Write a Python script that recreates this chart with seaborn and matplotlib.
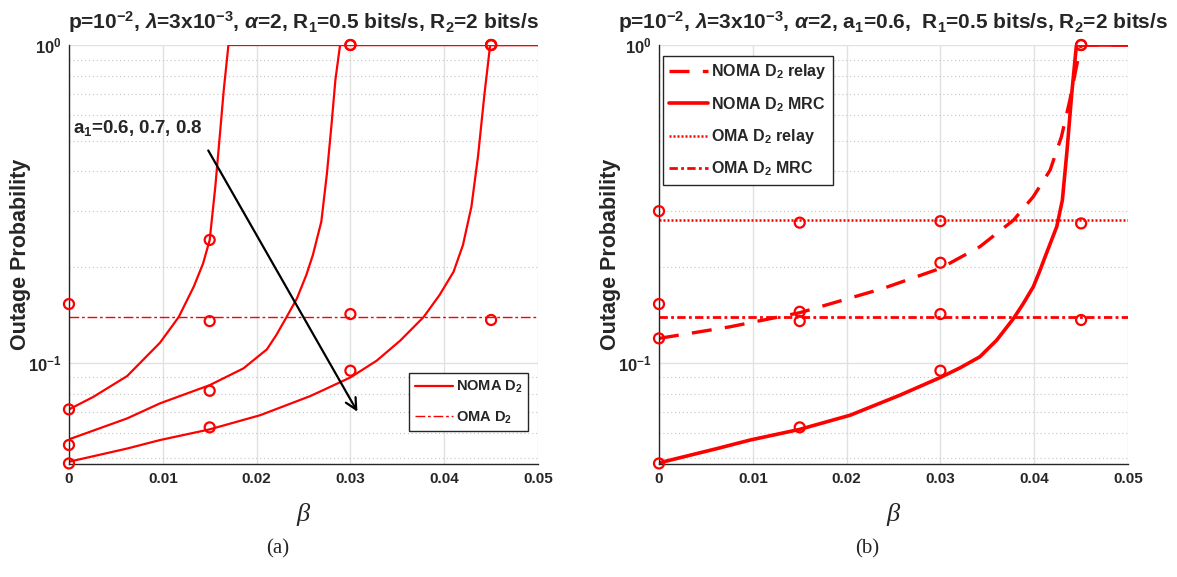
import pandas as pd
import seaborn as sns
import matplotlib.pyplot as plt
from matplotlib.ticker import NullFormatter, LogLocator

## data (beta vs outage probability) ##
# (a) NOMA D2, a1 = 0.6 / 0.7 / 0.8
beta_a06 = [0, 0.0026, 0.0062, 0.0097, 0.0117, 0.0133, 0.0143, 0.0150, 0.0156, 0.0161, 0.0165, 0.0170, 0.05]
op_a06 = [0.0713, 0.0781, 0.0908, 0.1156, 0.1393, 0.1735, 0.2055, 0.2433, 0.358, 0.527, 0.722, 1.0, 1.0]

beta_a07 = [0, 0.0062, 0.0097, 0.0150, 0.0186, 0.0211, 0.0221, 0.0232, 0.0243, 0.0253, 0.0260,
            0.0269, 0.0275, 0.0280, 0.0284, 0.0289, 0.05]
op_a07 = [0.0574, 0.0668, 0.0745, 0.0850, 0.0960, 0.1102, 0.1222, 0.1393, 0.1594, 0.1888, 0.2183,
          0.278, 0.3945, 0.5667, 0.776, 1.0, 1.0]

beta_a08 = [0, 0.0062, 0.0097, 0.0150, 0.0204, 0.0257, 0.0271, 0.0300, 0.0328, 0.0353, 0.0378,
            0.0395, 0.0410, 0.0420, 0.0429, 0.0436, 0.0443, 0.0449, 0.05]
op_a08 = [0.0488, 0.0537, 0.0571, 0.0617, 0.0684, 0.0785, 0.0820, 0.0899, 0.1015, 0.1173, 0.1392,
          0.1633, 0.1934, 0.2347, 0.3097, 0.4451, 0.7044, 1.0, 1.0]

oma_d2 = 0.1393

# (b) a1 = 0.6
beta_relay = [0, 0.0076, 0.0150, 0.0239, 0.0300, 0.0342, 0.0378, 0.0399, 0.0417, 0.0429,
              0.0438, 0.0445, 0.0450, 0.05]
op_relay = [0.1193, 0.1298, 0.1437, 0.1714, 0.1982, 0.2318, 0.2812, 0.3332, 0.4042, 0.5145,
            0.671, 0.8548, 1.0, 1.0]

beta_mrc = [0, 0.0062, 0.0097, 0.0150, 0.0204, 0.0257, 0.0300, 0.0321, 0.0342, 0.0360, 0.0378,
            0.0388, 0.0399, 0.0406, 0.0413, 0.0424, 0.0430, 0.0435, 0.0440, 0.0445, 0.05]
op_mrc = [0.0484, 0.0537, 0.0571, 0.0617, 0.0684, 0.0791, 0.0899, 0.0964, 0.1044, 0.1178, 0.1379,
          0.153, 0.1734, 0.1949, 0.2209, 0.268, 0.325, 0.467, 0.704, 1.0, 1.0]

oma_relay = 0.2812
oma_mrc = 0.1393

# simulation points (circles)
sim_beta = [0, 0.015, 0.03, 0.045]
sim_a06 = [0.0713, 0.2435, 1.0, 1.0]
sim_a07 = [0.0551, 0.0816, 1.0, 1.0]
sim_a08 = [0.0482, 0.0626, 0.0944, 1.0]
sim_oma = [0.153, 0.1352, 0.1423, 0.1363]
sim_relay = [0.1193, 0.1447, 0.2064, 1.0]
sim_mrc = [0.0482, 0.0626, 0.0944, 1.0]
sim_oma_relay = [0.300, 0.276, 0.279, 0.2745]
sim_oma_mrc = [0.153, 0.1352, 0.1423, 0.1363]

x_ticks = [0, 0.01, 0.02, 0.03, 0.04, 0.05]
x_ticklabels = ["0", "0.01", "0.02", "0.03", "0.04", "0.05"]

### style ###
sns.set_style("white")
plt.rcParams["font.family"] = ["Liberation Sans", "DejaVu Sans"]
plt.rcParams["font.weight"] = "bold"
plt.rcParams["mathtext.fontset"] = "custom"
plt.rcParams["mathtext.rm"] = "Liberation Sans:bold"
plt.rcParams["mathtext.bf"] = "Liberation Sans:bold"
plt.rcParams["mathtext.it"] = "Liberation Sans:italic"
plt.rcParams["mathtext.default"] = "rm"

RED = "#ff0000"

fig = plt.figure(figsize=(11.77, 5.77), dpi=100)
ax1 = fig.add_axes([0.0586, 0.1958, 0.3985, 0.7262])
ax2 = fig.add_axes([0.5599, 0.1958, 0.3985, 0.7262])


def circles(ax, y):
    sns.scatterplot(x=sim_beta, y=y, ax=ax, marker="o", s=52, facecolors="none",
                    edgecolors=RED, linewidth=1.6, clip_on=False, zorder=4)


def style_axes(ax):
    ax.set_yscale("log")
    ax.set_xlim(0, 0.05)
    ax.set_ylim(0.048, 1)
    ax.set_xticks(x_ticks)
    ax.set_xticklabels(x_ticklabels)
    ax.set_yticks([0.1, 1])
    ax.set_yticklabels([r"$10^{-1}$", r"$10^{0}$"])
    ax.yaxis.set_minor_locator(LogLocator(base=10, subs=range(2, 10)))
    ax.yaxis.set_minor_formatter(NullFormatter())
    ax.grid(True, which="major", color="#e1e1e1", linewidth=1.0, linestyle="-")
    ax.yaxis.grid(True, which="minor", color="#c4c4c4", linewidth=0.8, linestyle=(0, (1, 2.5)))
    ax.tick_params(axis="x", which="major", direction="in", length=5, width=1,
                   labelsize=11, colors="#262626", pad=6)
    ax.tick_params(axis="y", which="major", direction="in", length=5, width=1,
                   labelsize=12, colors="#262626", pad=5)
    ax.tick_params(axis="y", which="minor", direction="in", length=3, width=0.8, colors="#262626")
    ax.tick_params(axis="x", which="minor", length=0)
    for lab in ax.get_xticklabels() + ax.get_yticklabels():
        lab.set_fontweight("bold")
    for s in ["top", "right"]:
        ax.spines[s].set_visible(False)
    for s in ["left", "bottom"]:
        ax.spines[s].set_color("#262626")
        ax.spines[s].set_linewidth(1.0)
    ax.set_xlabel("")
    ax.set_ylabel("Outage Probability", fontsize=15.5, fontweight="bold")
    ax.yaxis.set_label_coords(-0.08, 0.5)
    ax.set_axisbelow(True)


## (a) ##
sns.lineplot(x=beta_a06, y=op_a06, ax=ax1, color=RED, linewidth=1.6, estimator=None, sort=False)
h_noma = ax1.lines[-1]
sns.lineplot(x=beta_a07, y=op_a07, ax=ax1, color=RED, linewidth=1.6, estimator=None, sort=False)
sns.lineplot(x=beta_a08, y=op_a08, ax=ax1, color=RED, linewidth=1.6, estimator=None, sort=False)
sns.lineplot(x=[0, 0.05], y=[oma_d2, oma_d2], ax=ax1, color=RED, linewidth=1.0,
             linestyle=(0, (7, 2, 2, 2)), estimator=None)
h_oma = ax1.lines[-1]
for y in [sim_a06, sim_a07, sim_a08, sim_oma]:
    circles(ax1, y)

style_axes(ax1)
ax1.set_title(r"p=10$^{-2}$, $\mathit{\lambda}$=3x10$^{-3}$, $\mathit{\alpha}$=2, R$_1$=0.5 bits/s, R$_2$=2 bits/s",
              fontsize=15, fontweight="bold", pad=12)
ax1.text(0.0004, 0.528, r"a$_1$=0.6, 0.7, 0.8", fontsize=13.5, fontweight="bold", va="baseline")
ax1.annotate("", xy=(0.0309, 0.0689), xytext=(0.0147, 0.474),
             arrowprops=dict(arrowstyle="->", color="black", lw=1.6, mutation_scale=20))
ax1.legend([h_noma, h_oma], ["NOMA D$_2$", "OMA D$_2$"], loc="upper right",
           bbox_to_anchor=(0.979, 0.217), borderaxespad=0, fontsize=10.5, frameon=True,
           fancybox=False, edgecolor="#262626", framealpha=1, handlelength=2.6,
           handletextpad=0.2, labelspacing=0.95, borderpad=0.4)

## (b) ##
sns.lineplot(x=beta_relay, y=op_relay, ax=ax2, color=RED, linewidth=2.4, linestyle=(0, (6, 4)),
             estimator=None, sort=False)
h1 = ax2.lines[-1]
sns.lineplot(x=beta_mrc, y=op_mrc, ax=ax2, color=RED, linewidth=2.6, estimator=None, sort=False)
h2 = ax2.lines[-1]
sns.lineplot(x=[0, 0.05], y=[oma_relay, oma_relay], ax=ax2, color=RED, linewidth=1.8,
             linestyle=(0, (0.8, 0.8)), estimator=None)
h3 = ax2.lines[-1]
sns.lineplot(x=[0, 0.05], y=[oma_mrc, oma_mrc], ax=ax2, color=RED, linewidth=2.0,
             linestyle=(0, (3, 1.2, 1, 1.2)), estimator=None)
h4 = ax2.lines[-1]
for y in [sim_relay, sim_mrc, sim_oma_relay, sim_oma_mrc]:
    circles(ax2, y)

style_axes(ax2)
ax2.set_title(r"p=10$^{-2}$, $\mathit{\lambda}$=3x10$^{-3}$, $\mathit{\alpha}$=2, a$_1$=0.6,  R$_1$=0.5 bits/s, R$_2$=2 bits/s",
              fontsize=15, fontweight="bold", pad=12)
ax2.legend([h1, h2, h3, h4], ["NOMA D$_2$ relay", "NOMA D$_2$ MRC", "OMA D$_2$ relay", "OMA D$_2$ MRC"],
           loc="upper left", bbox_to_anchor=(0.0085, 0.974), borderaxespad=0, fontsize=11.5,
           frameon=True, fancybox=False, edgecolor="#262626", framealpha=1, handlelength=2.4,
           handletextpad=0.2, labelspacing=0.85, borderpad=0.4)

## bottom labels ##
for xb, xc, cap in [(303, 278, "(a)"), (893, 867, "(b)")]:
    fig.text(xb / 1177, 1 - 514 / 577, "\u03b2", fontsize=19, family="Liberation Serif",
             style="italic", weight="normal", ha="center", va="center")
    fig.text(xc / 1177, 1 - 549 / 577, cap, fontsize=15, family="Liberation Serif",
             weight="normal", ha="center", va="center")

fig.savefig("out.png", dpi=100)
